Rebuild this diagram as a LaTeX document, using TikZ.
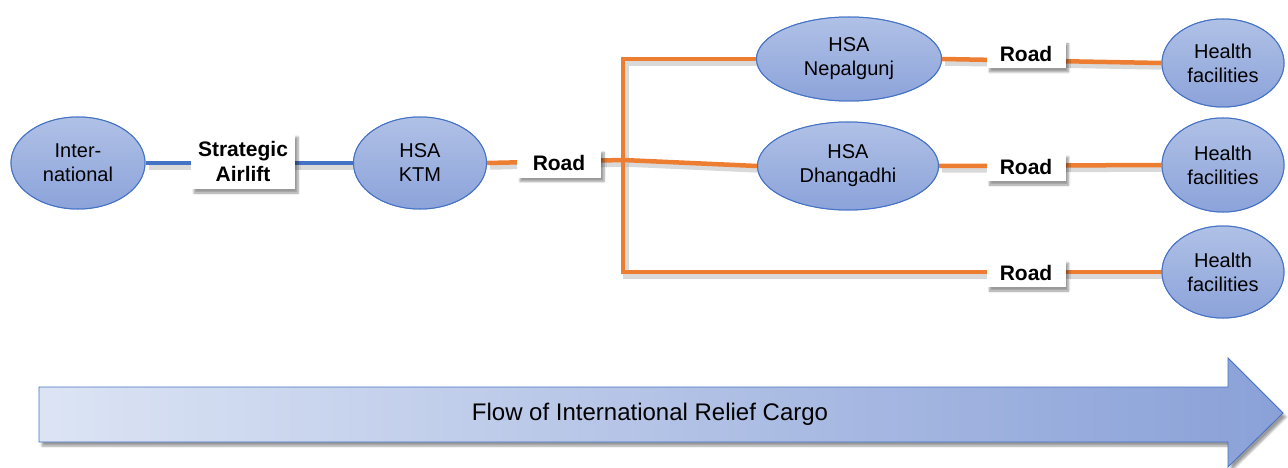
\documentclass[tikz,border=0pt]{standalone}
\usepackage{fontspec}
\setmainfont{Liberation Sans}
\usetikzlibrary{shapes.geometric,shadows.blur}
\definecolor{eborder}{HTML}{4472C4}
\definecolor{etop}{HTML}{B0C1E6}
\definecolor{ebot}{HTML}{8CA3DA}
\definecolor{roadc}{HTML}{ED7D31}
\definecolor{airc}{HTML}{4472C4}
\definecolor{arrl}{HTML}{DCE4F4}
\definecolor{arrr}{HTML}{8AA1D8}
\tikzset{
  hub/.style={ellipse, draw=eborder, line width=1pt, top color=etop, bottom color=ebot,
    align=center, font=\fontsize{20}{24}\selectfont, inner sep=0pt},
  lbl/.style={fill=white, align=center, font=\bfseries\fontsize{21}{25}\selectfont,
    inner sep=0pt, blur shadow={shadow xshift=3pt, shadow yshift=-4pt, shadow blur steps=6, shadow opacity=40}},
  roadline/.style={draw=roadc, line width=4.5pt},
  airline/.style={draw=airc, line width=4.5pt},
  lshadow/.style={draw=black!25, line width=5.5pt, opacity=0.6, transform canvas={shift={(3pt,-4pt)}}},
}
\begin{document}
\begin{tikzpicture}[x=1pt,y=-1pt]
\useasboundingbox (0,0) rectangle (1288,468);
% coordinates of junction
\coordinate (jtop) at (623,59);
\coordinate (jmid) at (623,160);
\coordinate (jbot) at (623,272);
% nodes
\node[hub, minimum width=134, minimum height=92] (intl) at (78,163) {Inter-\\national};
\node[hub, minimum width=133, minimum height=92] (ktm) at (420,163) {HSA\\KTM};
\node[hub, minimum width=185, minimum height=84] (nep) at (849,59) {HSA\\Nepalgunj};
\node[hub, minimum width=181, minimum height=88] (dha) at (848,166) {HSA\\Dhangadhi};
\node[hub, minimum width=122, minimum height=88] (hf1) at (1223,63) {Health\\facilities};
\node[hub, minimum width=122, minimum height=94] (hf2) at (1223,165) {Health\\facilities};
\node[hub, minimum width=122, minimum height=92] (hf3) at (1223,272) {Health\\facilities};
% line shadows
\begin{scope}
\draw[lshadow] (intl.east) -- (ktm.west);
\draw[lshadow] (ktm.east) -- (jmid);
\draw[lshadow] (nep.west) -- (jtop) -- (jbot) -- (hf3.west);
\draw[lshadow] (jmid) -- (dha.west);
\draw[lshadow] (nep.east) -- (hf1.west);
\draw[lshadow] (dha.east) -- (hf2.west);
\end{scope}
% connectors
\draw[airline] (intl.east) -- (ktm.west);
\draw[roadline] (ktm.east) -- (jmid);
\draw[roadline] (nep.west) -- (jtop) -- (jbot) -- (hf3.west);
\draw[roadline] (jmid) -- (dha.west);
\draw[roadline] (nep.east) -- (hf1.west);
\draw[roadline] (dha.east) -- (hf2.west);
% redraw ellipses over lines
\node[hub, minimum width=134, minimum height=92] at (78,163) {Inter-\\national};
\node[hub, minimum width=133, minimum height=92] at (420,163) {HSA\\KTM};
\node[hub, minimum width=185, minimum height=84] at (849,59) {HSA\\Nepalgunj};
\node[hub, minimum width=181, minimum height=88] at (848,166) {HSA\\Dhangadhi};
\node[hub, minimum width=122, minimum height=88] at (1223,63) {Health\\facilities};
\node[hub, minimum width=122, minimum height=94] at (1223,165) {Health\\facilities};
\node[hub, minimum width=122, minimum height=92] at (1223,272) {Health\\facilities};
% labels
\node[lbl, minimum width=104, minimum height=56] (sa) at (243,161) {Strategic\\Airlift};
\node[lbl, minimum width=84, minimum height=29] (r0) at (559,163) {Road};
\node[lbl, minimum width=79, minimum height=28] (r1) at (1026,54) {Road};
\node[lbl, minimum width=79, minimum height=28] (r2) at (1026,167) {Road};
\node[lbl, minimum width=79, minimum height=28] (r3) at (1026,273) {Road};
% flow arrow
\path[left color=arrl, right color=arrr, draw=eborder, line width=0.8pt,
  blur shadow={shadow xshift=3pt, shadow yshift=-4pt, shadow blur steps=6, shadow opacity=40}]
  (39,387) -- (1228,387) -- (1228,358) -- (1283,413) -- (1228,467) -- (1228,442) -- (39,442) -- cycle;
\node[font=\fontsize{24}{28}\selectfont] (flow) at (650,414) {Flow of International Relief Cargo};
\end{tikzpicture}
\end{document}
